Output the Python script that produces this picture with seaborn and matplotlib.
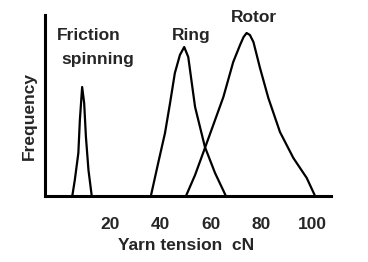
import matplotlib
matplotlib.use("Agg")
import matplotlib.pyplot as plt
import seaborn as sns
import pandas as pd
from matplotlib import font_manager

sns.set_theme(style="white")

names = [f.name for f in font_manager.fontManager.ttflist]
fam = "Liberation Sans Narrow" if "Liberation Sans Narrow" in names else "Liberation Sans"
plt.rcParams['font.family'] = [fam, 'DejaVu Sans']

# data
friction_x = [5.1, 6.1, 7.5, 8.1, 9.0, 9.8, 10.5, 11.5, 12.8]
friction_y = [0, 16, 43, 76, 109, 93, 59, 26, 0]
ring_x = [36.2, 39.1, 41.8, 43.8, 45.7, 47.7, 49.4, 51.0, 52.4, 53.7, 57.6, 61.6, 65.9]
ring_y = [0, 33, 63, 93, 123, 141, 149, 139, 113, 89, 49, 23, 0]
rotor_x = [50.1, 53.7, 57.6, 60.9, 64.9, 68.8, 71.5, 72.9, 74.1, 75.4, 76.8, 79.4,
           82.7, 87.3, 92.6, 97.9, 101.2]
rotor_y = [0, 21, 48, 71, 99, 134, 151, 159, 163, 161, 154, 128, 98, 64, 38, 18, 0]
x_ticks = [20, 40, 60, 80, 100]
x_ticklabels = ["20", "40", "60", "80", "100"]

df = pd.concat([
    pd.DataFrame({"x": friction_x, "y": friction_y, "curve": "Friction"}),
    pd.DataFrame({"x": ring_x, "y": ring_y, "curve": "Ring"}),
    pd.DataFrame({"x": rotor_x, "y": rotor_y, "curve": "Rotor"}),
])

W, H = 368, 262
fig = plt.figure(figsize=(W / 100, H / 100), dpi=100)
ax = fig.add_axes([45 / W, 1 - 196 / H, (331 - 45) / W, (196 - 15) / H])

sns.lineplot(data=df, x="x", y="y", hue="curve", sort=False,
             palette=["black", "black", "black"], linewidth=1.6,
             legend=False, ax=ax, estimator=None)

ax.set_xlim(-5.7, 107.5)
ax.set_ylim(0, 181)
for s in ["top", "right"]:
    ax.spines[s].set_visible(False)
for s in ["left", "bottom"]:
    ax.spines[s].set_color("black")
    ax.spines[s].set_linewidth(2.2)

ax.set_xticks(x_ticks)
ax.set_xticklabels(x_ticklabels, fontsize=12.5, fontweight="bold")
ax.tick_params(axis="x", direction="in", length=4, width=1, color="black", pad=15)
ax.set_yticks([13, 113, 181])
ax.set_yticklabels([])
ax.tick_params(axis="y", direction="in", length=2, width=1, color="black")
ax.set_xlabel("")
ax.set_ylabel("")

def px(x, y):
    return x / W, 1 - y / H

fs = 12.5
fig.text(*px(57, 36), "Friction", fontsize=fs, fontweight="bold", ha="left", va="center")
fig.text(*px(61, 60), "spinning", fontsize=fs, fontweight="bold", ha="left", va="center")
fig.text(*px(191, 35), "Ring", fontsize=fs, fontweight="bold", ha="center", va="center")
fig.text(*px(254, 18), "Rotor", fontsize=fs, fontweight="bold", ha="center", va="center")
fig.text(*px(29, 116), "Frequency", fontsize=fs, fontweight="bold", ha="center", va="center",
         rotation=90)
fig.text(*px(186, 246), "Yarn tension  cN", fontsize=fs, fontweight="bold", ha="center",
         va="center")

fig.savefig("out.png", dpi=100)
